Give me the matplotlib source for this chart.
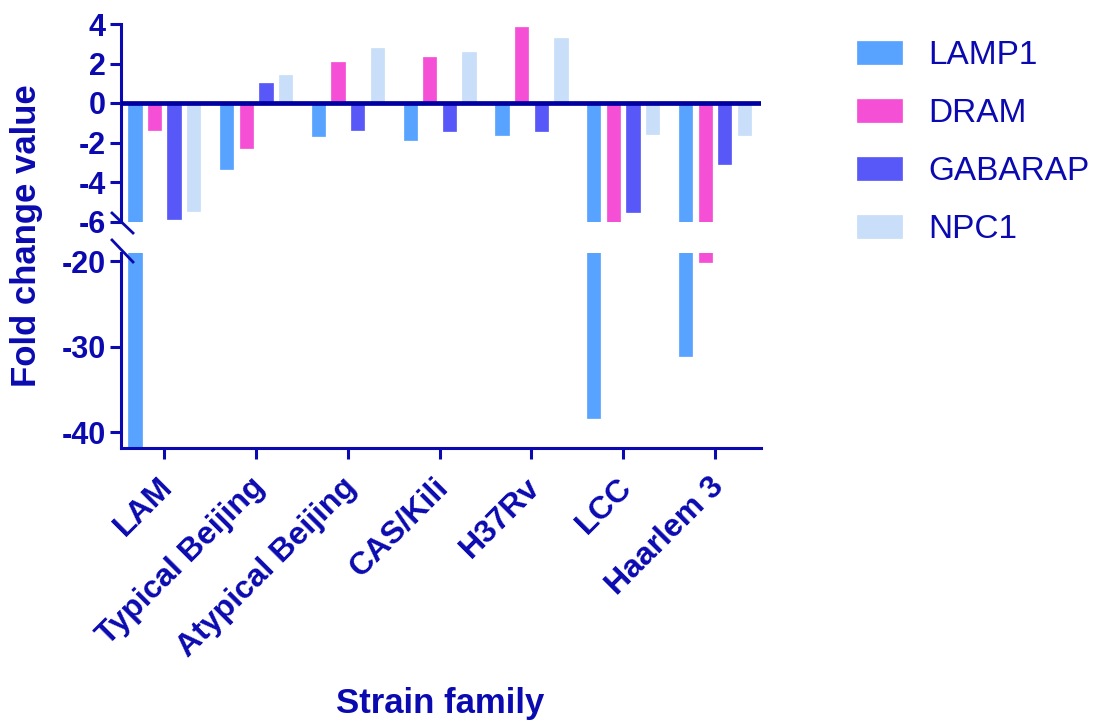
import matplotlib
matplotlib.use("Agg")
import matplotlib.pyplot as plt
import numpy as np
from matplotlib.lines import Line2D
from matplotlib.transforms import ScaledTranslation

plt.rcParams['font.family'] = ['Liberation Sans', 'DejaVu Sans']

categories = ["LAM", "Typical Beijing", "Atypical Beijing", "CAS/Kili", "H37Rv", "LCC", "Haarlem 3"]
series_names = ["LAMP1", "DRAM", "GABARAP", "NPC1"]
lamp1 = [-42.0, -3.36, -1.67, -1.86, -1.62, -38.35, -31.05]
dram = [-1.37, -2.26, 2.08, 2.31, 3.85, -8.0, -20.15]
gabarap = [-5.87, 1.0, -1.38, -1.44, -1.44, -5.5, -3.1]
npc1 = [-5.45, 1.42, 2.78, 2.6, 3.27, -1.57, -1.62]
top_ticks = [-6, -4, -2, 0, 2, 4]
bottom_ticks = [-40, -30, -20]

colors = ["#57a3ff", "#f54fd5", "#5858f8", "#c9def8"]
dark = "#0a0ab0"

W, H = 1101, 721
fig = plt.figure(figsize=(W / 100, H / 100), dpi=100)

def fx(px):
    return px / W

def fy(py):
    return 1 - py / H

left_px, right_px = 121, 760.7
ax_top = fig.add_axes([fx(left_px), fy(221.5), fx(right_px) - fx(left_px), (221.5 - 24) / H])
ax_bot = fig.add_axes([fx(left_px), fy(448), fx(right_px) - fx(left_px), (448 - 253.3) / H])

x = np.arange(len(categories))
offs = np.array([-1.5, -0.5, 0.5, 1.5]) * 0.214
width = 0.145
data = [lamp1, dram, gabarap, npc1]

for ax in (ax_top, ax_bot):
    for k, (vals, c) in enumerate(zip(data, colors)):
        ax.bar(x + offs[k], vals, width=width, color=c, label=series_names[k] if ax is ax_top else None,
               edgecolor=c, linewidth=0.5)
    ax.set_xlim(-0.472, 6.498)
    ax.spines['top'].set_visible(False)
    ax.spines['right'].set_visible(False)
    ax.spines['left'].set_color(dark)
    ax.spines['left'].set_linewidth(2.2)
    ax.tick_params(axis='y', colors=dark, width=2.2, length=8, pad=3)

ax_top.set_ylim(-6, 4)
ax_top.set_yticks(top_ticks)
ax_top.set_yticklabels([str(t) for t in top_ticks], fontweight='bold', color=dark, fontsize=22)
ax_top.spines['bottom'].set_visible(False)
ax_top.set_xticks([])
ax_top.axhline(0, color="#0000a0", linewidth=3.4, zorder=5)

ax_bot.set_ylim(-41.83, -19.1)
ax_bot.set_yticks(bottom_ticks)
ax_bot.set_yticklabels([str(t) for t in bottom_ticks], fontweight='bold', color=dark, fontsize=22)
ax_bot.spines['bottom'].set_color(dark)
ax_bot.spines['bottom'].set_linewidth(2.2)
ax_bot.set_xticks(x)
ax_bot.tick_params(axis='x', colors=dark, width=2.2, length=8, pad=17)
ax_bot.set_xticklabels(categories, rotation=45, ha='right', va='center', rotation_mode='anchor',
                       fontweight='bold', fontsize=23, color=dark)
shift = ScaledTranslation(3 / 72, 0, fig.dpi_scale_trans)
for lab in ax_bot.get_xticklabels():
    lab.set_transform(lab.get_transform() + shift)

# break marks
for (x0, y0, x1, y1) in [(112, 213, 133, 233), (112, 240, 133, 262)]:
    fig.add_artist(Line2D([fx(x0), fx(x1)], [fy(y0), fy(y1)], color=dark, linewidth=2.0))

fig.text(fx(27), fy(236), "Fold change value", rotation=90, ha='center', va='center',
         fontsize=25, fontweight='bold', color=dark)
fig.text(fx(440), fy(703), "Strain family", ha='center', va='center',
         fontsize=25, fontweight='bold', color=dark)

handles, labels = ax_top.get_legend_handles_labels()
leg = fig.legend(handles, labels, loc='upper left', bbox_to_anchor=(fx(857), fy(40)),
                 frameon=False, fontsize=24, handlelength=1.35, handleheight=0.69,
                 handletextpad=0.78, labelspacing=0.81, borderpad=0, borderaxespad=0)
for t in leg.get_texts():
    t.set_color(dark)

fig.savefig("out.png", dpi=100)
